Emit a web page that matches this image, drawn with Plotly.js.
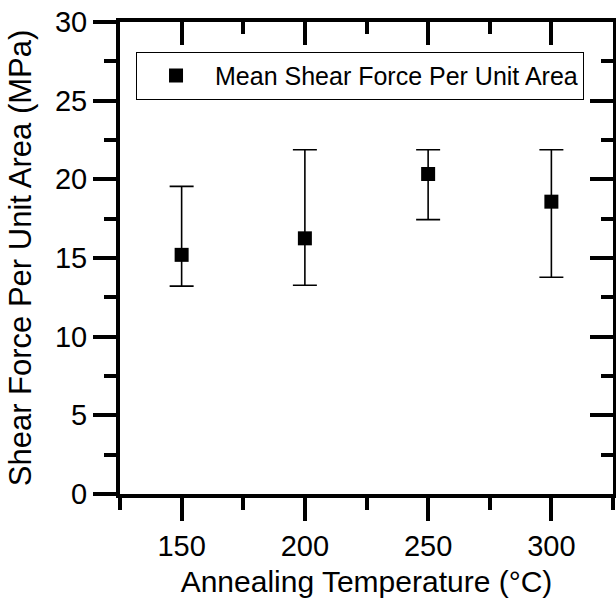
<!DOCTYPE html>
<html>
<head>
<meta charset="utf-8">
<script src="https://cdn.plot.ly/plotly-3.0.1.min.js"></script>
<style>html,body{margin:0;padding:0;background:#fff;}#chart{width:616px;height:600px;}</style>
</head>
<body>
<div id="chart"></div>
<script>
// Data
const temperatures = [150, 200, 250, 300];
const meanShear = [15.2, 16.25, 20.34, 18.58];
const upperBound = [19.55, 21.88, 21.88, 21.88];
const lowerBound = [13.21, 13.27, 17.44, 13.78];
const xTickVals = [150, 200, 250, 300];
const yTickVals = [0, 5, 10, 15, 20, 25, 30];
const seriesName = "Mean Shear Force Per Unit Area";

const errPlus = upperBound.map((u, i) => u - meanShear[i]);
const errMinus = meanShear.map((m, i) => m - lowerBound[i]);

const FONT = "Liberation Sans, Arial, sans-serif";

const traces = [
  {
    x: temperatures,
    y: meanShear,
    type: "scatter",
    mode: "markers",
    name: seriesName,
    marker: {symbol: "square", size: 14, color: "#000"},
    error_y: {
      type: "data", symmetric: false,
      array: errPlus, arrayminus: errMinus,
      color: "#000", thickness: 1.6, width: 12
    }
  },
  {x: [], y: [], xaxis: "x2", yaxis: "y2", showlegend: false, hoverinfo: "skip", type: "scatter"}
];

const axisCommon = {
  showline: true, linecolor: "#000", linewidth: 4,
  showgrid: false, zeroline: false,
  tickcolor: "#000", tickwidth: 4, ticklen: 23,
  tickfont: {family: FONT, size: 29, color: "#000"},
  fixedrange: true
};

const layout = {
  width: 616, height: 600,
  margin: {l: 120, r: 3, t: 22, b: 106},
  paper_bgcolor: "#fff", plot_bgcolor: "#fff",
  font: {family: FONT, color: "#000"},
  showlegend: true,
  legend: {
    x: 0.0325, y: 0.937, xanchor: "left", yanchor: "top",
    bordercolor: "#000", borderwidth: 1, bgcolor: "#fff",
    font: {family: FONT, size: 25, color: "#000"},
    itemwidth: 68
  },
  xaxis: Object.assign({}, axisCommon, {
    range: [125, 325], tickvals: xTickVals, ticks: "outside",
    minor: {dtick: 25, tick0: 0, ticks: "outside", ticklen: 12, tickwidth: 4, tickcolor: "#000"},
    title: {text: "Annealing Temperature (\u00B0C)", font: {family: FONT, size: 30, color: "#000"}, standoff: 11}
  }),
  yaxis: Object.assign({}, axisCommon, {
    range: [0, 30], tickvals: yTickVals, ticks: "outside",
    minor: {dtick: 2.5, tick0: 0, ticks: "outside", ticklen: 12, tickwidth: 4, tickcolor: "#000"},
    title: {text: "Shear Force Per Unit Area (MPa)", font: {family: FONT, size: 31, color: "#000"}, standoff: 15}
  }),
  xaxis2: Object.assign({}, axisCommon, {
    overlaying: "x", side: "top", anchor: "y", range: [125, 325],
    tickvals: xTickVals, ticks: "inside", showticklabels: false,
    minor: {dtick: 25, tick0: 0, ticks: "inside", ticklen: 12, tickwidth: 4, tickcolor: "#000"}
  }),
  yaxis2: Object.assign({}, axisCommon, {
    overlaying: "y", side: "right", anchor: "x", range: [0, 30],
    tickvals: yTickVals, ticks: "inside", showticklabels: false,
    minor: {dtick: 2.5, tick0: 0, ticks: "inside", ticklen: 12, tickwidth: 4, tickcolor: "#000"}
  })
};

Plotly.newPlot("chart", traces, layout, {staticPlot: true, displayModeBar: false});
</script>
</body>
</html>
